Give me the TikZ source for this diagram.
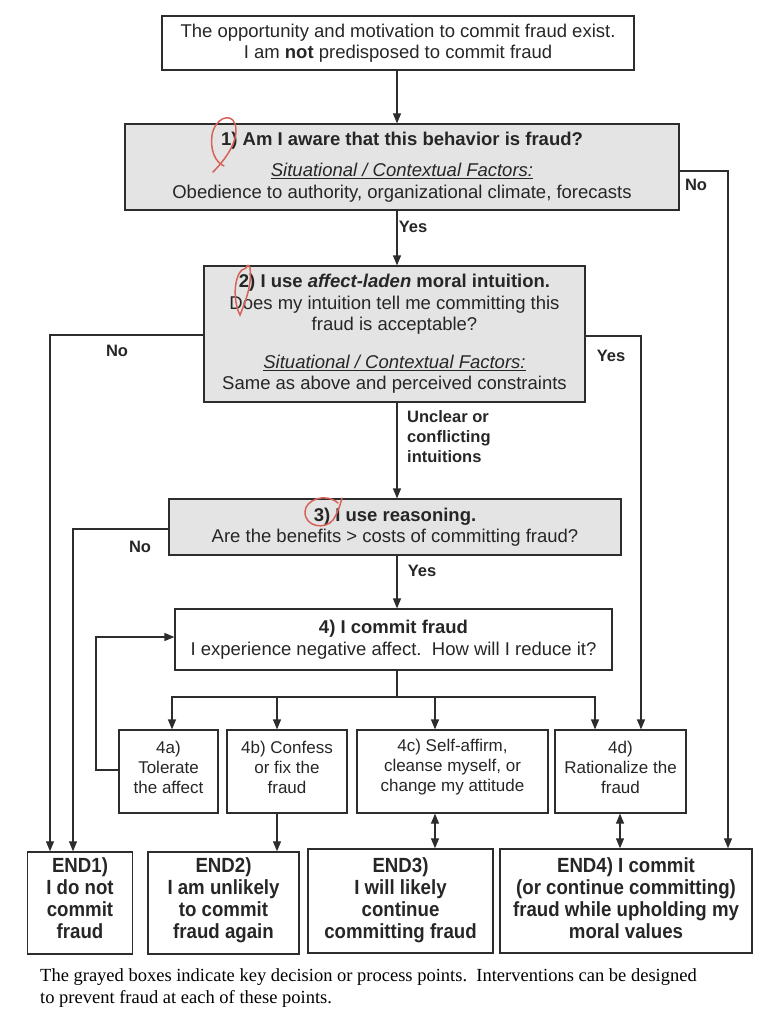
\documentclass[tikz,border=0pt]{standalone}
\usepackage{fontspec}
\setmainfont{Liberation Sans}
\newfontfamily\capfont{Liberation Serif}
\newfontfamily\condfont[FakeStretch=0.91]{Liberation Sans}
\usetikzlibrary{arrows.meta}
\definecolor{boxgray}{RGB}{228,228,228}
\definecolor{linecol}{RGB}{45,45,45}
\definecolor{penred}{RGB}{214,98,88}
\begin{document}
\begin{tikzpicture}[x=1pt,y=-1pt,
 box/.style={draw=linecol, line width=1.2pt, align=center, inner sep=0pt, font=\fontsize{18.5}{21.5}\selectfont, text=black!85},
 graybox/.style={box, fill=boxgray},
 smalltext/.style={align=center, inner sep=0pt, text=black!85, font=\fontsize{17}{20}\selectfont},
 endbox/.style={box, line width=1.4pt},
 endtext/.style={align=center, inner sep=0pt, text=black!85, font=\condfont\bfseries\fontsize{20.5}{22}\selectfont},
 conn/.style={draw=linecol, line width=1.2pt},
 arr/.style={conn, -{Triangle[length=10pt,width=8pt]}},
 darr/.style={conn, {Triangle[length=10pt,width=8pt]}-{Triangle[length=10pt,width=8pt]}},
 lbl/.style={font=\bfseries\fontsize{16.5}{20}\selectfont, inner sep=0pt, align=left, text=black!85},
 pen/.style={draw=penred, line width=1.5pt, line cap=round},
 ]
\useasboundingbox (0,0) rectangle (774,1024);

\node[box, minimum width=472pt, minimum height=54pt] (top) at (398,43)
 {The opportunity and motivation to commit fraud exist.\\ I am \textbf{not} predisposed to commit fraud};

\node[graybox, minimum width=554pt, minimum height=86pt] (b1) at (402,167)
 {\textbf{1) Am I aware that this behavior is fraud?}\\[10pt]
  \underline{\textit{Situational / Contextual Factors:}}\\
  Obedience to authority, organizational climate, forecasts};

\node[graybox, minimum width=381pt, minimum height=136pt] (b2) at (394.5,334)
 {\textbf{2) I use \textit{affect-laden} moral intuition.}\\
  Does my intuition tell me committing this\\
  fraud is acceptable?\\[16pt]
  \underline{\textit{Situational / Contextual Factors:}}\\
  Same as above and perceived constraints};

\node[graybox, minimum width=452pt, minimum height=56pt] (b3) at (395,527)
 {\textbf{3) I use reasoning.}\\ Are the benefits > costs of committing fraud?};

\node[box, minimum width=437pt, minimum height=61pt] (b4) at (393.5,639.5)
 {\textbf{4) I commit fraud}\\ I experience negative affect.\ \ How will I reduce it?};

% 4a-4d
\node[box, minimum width=99pt, minimum height=83pt] (a4) at (168.5,771.5) {};
\node[smalltext] (a4t) at (168.5,767.5) {4a)\\ Tolerate\\ the affect};
\node[box, minimum width=120pt, minimum height=83pt] (bb4) at (287,771.5) {};
\node[smalltext] (bb4t) at (287,767.5) {4b) Confess\\ or fix the\\ fraud};
\node[box, minimum width=191pt, minimum height=83pt] (c4) at (452.5,771.5) {};
\node[smalltext] (c4t) at (452.5,767.5) {4c) Self-affirm,\\ cleanse myself, or\\ change my attitude};
\node[box, minimum width=131pt, minimum height=83pt] (d4) at (620.5,771.5) {};
\node[smalltext] (d4t) at (620.5,767.5) {4d)\\ Rationalize the\\ fraud};

% END boxes
\node[endbox, minimum width=105pt, minimum height=102pt] (end1) at (80,903) {};
\node[endtext] (end1t) at (80,898) {END1)\\ I do not\\ commit\\ fraud};
\node[endbox, minimum width=151pt, minimum height=102pt] (end2) at (223.5,903) {};
\node[endtext] (end2t) at (223.5,900.5) {END2)\\ I am unlikely\\ to commit\\ fraud again};
\node[endbox, minimum width=185pt, minimum height=104pt] (end3) at (400.5,901) {};
\node[endtext] (end3t) at (400.5,900) {END3)\\ I will likely\\ continue\\ committing fraud};
\node[endbox, minimum width=252pt, minimum height=104pt] (end4) at (626,901) {};
\node[endtext] (end4t) at (626,898) {END4) I commit\\ (or continue committing)\\ fraud while upholding my\\ moral values};

% connectors
\draw[arr] (top.south -| 397,0) -- (b1.north -| 397,0);
\draw[arr] (b1.east |- 0,171) -| (end4.north -| 728,0);
\draw[arr] (b1.south -| 397,0) -- (b2.north -| 397,0);
\draw[arr] (b2.west |- 0,335) -| (end1.north -| 50,0);
\draw[arr] (b2.east |- 0,336) -| (d4.north -| 641,0);
\draw[arr] (b2.south -| 397,0) -- (b3.north -| 397,0);
\draw[arr] (b3.west |- 0,529) -| (end1.north -| 73,0);
\draw[arr] (b3.south -| 397,0) -- (b4.north -| 397,0);
\draw[conn] (b4.south -| 397,0) -- (397,697) coordinate (split);
\draw[arr] (split) -| (a4.north -| 172,0);
\draw[arr] (split) -| (bb4.north -| 277,0);
\draw[arr] (split) -| (c4.north -| 435,0);
\draw[arr] (split) -| (d4.north -| 595,0);
\draw[arr] (a4.west |- 0,770) -- (96,770) |- (b4.west |- 0,637);
\draw[arr] (bb4.south -| 277,0) -- (end2.north -| 277,0);
\draw[darr] (c4.south -| 435,0) -- (end3.north -| 435,0);
\draw[darr] (d4.south -| 620,0) -- (end4.north -| 620,0);

% labels
\node[lbl] (l1) at (696,185) {No};
\node[lbl] (l2) at (413,227) {Yes};
\node[lbl] (l3) at (117,351) {No};
\node[lbl] (l4) at (611,356) {Yes};
\node[lbl, anchor=north west] (l5) at (407,410) {Unclear or\\ conflicting\\ intuitions};
\node[lbl] (l6) at (140,547) {No};
\node[lbl] (l7) at (422,571) {Yes};

% caption
\node[anchor=north west, inner sep=0pt, align=left, font=\capfont\fontsize{18.5}{22}\selectfont] (cap) at (40,968)
 {The grayed boxes indicate key decision or process points.\ \ Interventions can be designed\\
  to prevent fraud at each of these points.};

% red pen marks
\draw[pen] (213,172) .. controls (225,160) and (240,140) .. (235,124) .. controls (231,112) and (215,118) .. (212,135) .. controls (210,150) and (215,162) .. (224,166);
\draw[pen] (246,268) .. controls (234,270) and (232,300) .. (240,315) .. controls (246,300) and (252,285) .. (250,268) .. controls (249,264) and (247,265) .. (246,268);
\draw[pen] (338,503) .. controls (325,492) and (305,500) .. (305,512) .. controls (305,527) and (325,530) .. (333,520) .. controls (337,514) and (340,506) .. (342,498);
\end{tikzpicture}
\end{document}
